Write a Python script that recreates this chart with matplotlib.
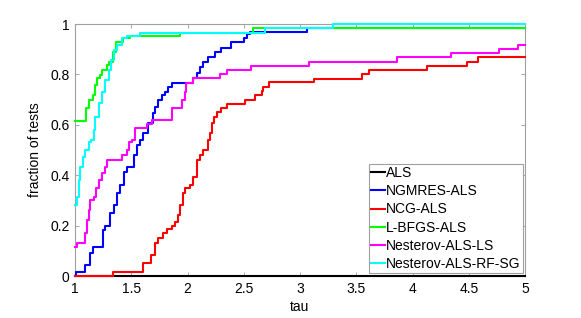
import numpy as np
import matplotlib
matplotlib.use('Agg')
import matplotlib.pyplot as plt

plt.rcParams['font.family'] = ['Liberation Sans', 'DejaVu Sans']
plt.rcParams['font.size'] = 10

# performance profile data (tau, fraction of tests), step functions
als_tau = [1.0]
als_frac = [0.0]

ngmres_tau = [1.0, 1.009, 1.092, 1.136, 1.157, 1.246, 1.269, 1.314, 1.344, 1.373, 1.403, 1.433,
              1.462, 1.522, 1.551, 1.58, 1.607, 1.652, 1.696, 1.711, 1.74, 1.771, 1.80, 1.829,
              1.86, 2.05, 2.08, 2.11, 2.14, 2.185, 2.244, 2.30, 2.39, 2.50, 2.526, 2.556, 3.06]
ngmres_frac = [0.0, 0.017, 0.044, 0.09, 0.116, 0.183, 0.2, 0.249, 0.282, 0.328, 0.361, 0.414,
               0.434, 0.48, 0.52, 0.54, 0.566, 0.606, 0.646, 0.672, 0.698, 0.718, 0.731, 0.75,
               0.767, 0.784, 0.804, 0.831, 0.851, 0.87, 0.887, 0.903, 0.93, 0.943, 0.96, 0.967, 0.983]

ncg_tau = [1.0, 1.335, 1.607, 1.673, 1.711, 1.74, 1.785, 1.815, 1.86, 1.889, 1.918, 1.933,
           1.963, 1.978, 2.022, 2.05, 2.08, 2.11, 2.14, 2.185, 2.20, 2.215, 2.236, 2.26, 2.30,
           2.35, 2.51, 2.60, 2.66, 2.674, 2.72, 3.12, 3.55, 3.61, 4.13, 4.48, 4.58]
ncg_frac = [0.0, 0.017, 0.05, 0.083, 0.13, 0.15, 0.169, 0.185, 0.198, 0.216, 0.242, 0.282,
            0.328, 0.348, 0.361, 0.394, 0.46, 0.48, 0.5, 0.54, 0.566, 0.606, 0.632, 0.652, 0.665,
            0.683, 0.698, 0.718, 0.735, 0.751, 0.768, 0.782, 0.80, 0.817, 0.835, 0.851, 0.868]

lbfgs_tau = [1.0, 1.10, 1.12, 1.16, 1.18, 1.195, 1.225, 1.24, 1.285, 1.305, 1.335, 1.365,
             1.43, 1.485, 1.93, 2.58]
lbfgs_frac = [0.615, 0.665, 0.698, 0.718, 0.758, 0.784, 0.798, 0.817, 0.837, 0.85, 0.89, 0.93,
              0.943, 0.954, 0.966, 0.983]

nest_ls_tau = [1.0, 1.02, 1.09, 1.107, 1.122, 1.136, 1.166, 1.187, 1.21, 1.24, 1.269, 1.284,
               1.418, 1.462, 1.477, 1.507, 1.533, 1.637, 1.682, 1.86, 1.95, 1.975, 1.99, 2.05,
               2.29, 2.35, 2.56, 3.08, 3.86, 4.34, 4.77, 4.94]
nest_ls_frac = [0.116, 0.132, 0.169, 0.222, 0.262, 0.302, 0.315, 0.348, 0.381, 0.407, 0.434, 0.46,
                0.48, 0.5, 0.533, 0.54, 0.586, 0.603, 0.619, 0.665, 0.70, 0.731, 0.767, 0.784,
                0.80, 0.817, 0.835, 0.851, 0.868, 0.884, 0.90, 0.918]

nest_rf_tau = [1.0, 1.018, 1.033, 1.047, 1.071, 1.092, 1.122, 1.145, 1.166, 1.18, 1.21, 1.24,
               1.27, 1.30, 1.323, 1.344, 1.373, 1.418, 1.462, 1.58, 2.69, 3.29]
nest_rf_frac = [0.282, 0.315, 0.381, 0.434, 0.473, 0.5, 0.533, 0.54, 0.58, 0.632, 0.685, 0.731,
                0.778, 0.817, 0.857, 0.897, 0.917, 0.943, 0.952, 0.966, 0.983, 1.0]

labels = ['ALS', 'NGMRES-ALS', 'NCG-ALS', 'L-BFGS-ALS', 'Nesterov-ALS-LS', 'Nesterov-ALS-RF-SG']
colors = ['#000000', '#0000ff', '#ff0000', '#00ff00', '#ff00ff', '#00ffff']
series = [(als_tau, als_frac), (ngmres_tau, ngmres_frac), (ncg_tau, ncg_frac),
          (lbfgs_tau, lbfgs_frac), (nest_ls_tau, nest_ls_frac), (nest_rf_tau, nest_rf_frac)]

fig = plt.figure(figsize=(5.81, 3.18), dpi=100)
ax = fig.add_axes([75 / 581, 42 / 318, 450 / 581, 252 / 318])

for (t, f), lab, c in zip(series, labels, colors):
    t = np.append(t, 5.0)
    f = np.append(f, f[-1])
    ax.plot(t, f, drawstyle='steps-post', color=c, linewidth=1.5, label=lab,
            clip_on=False, zorder=3)

ax.set_xlim(1, 5)
ax.set_ylim(0, 1)
ax.set_xticks([1, 1.5, 2, 2.5, 3, 3.5, 4, 4.5, 5])
ax.set_xticklabels(['1', '1.5', '2', '2.5', '3', '3.5', '4', '4.5', '5'])
ax.set_yticks([0, 0.2, 0.4, 0.6, 0.8, 1])
ax.set_yticklabels(['0', '0.2', '0.4', '0.6', '0.8', '1'])
ax.tick_params(direction='in', length=3, width=0.6, color='#999999', top=True, right=True,
               labelsize=10, pad=4)
for s in ax.spines.values():
    s.set_color('#a0a0a0')
    s.set_linewidth(0.8)

ax.set_xlabel('tau', fontsize=10, labelpad=3)
ax.set_ylabel('fraction of tests', fontsize=10, labelpad=6)

leg = ax.legend(loc='lower right', bbox_to_anchor=(0.995, 0.012), borderaxespad=0,
                fancybox=False, framealpha=1, edgecolor='#a0a0a0', handlelength=1.0,
                handletextpad=0.1, borderpad=0.15, labelspacing=0.3, fontsize=10)
leg.get_frame().set_linewidth(0.8)

fig.savefig('out.png', dpi=100)
